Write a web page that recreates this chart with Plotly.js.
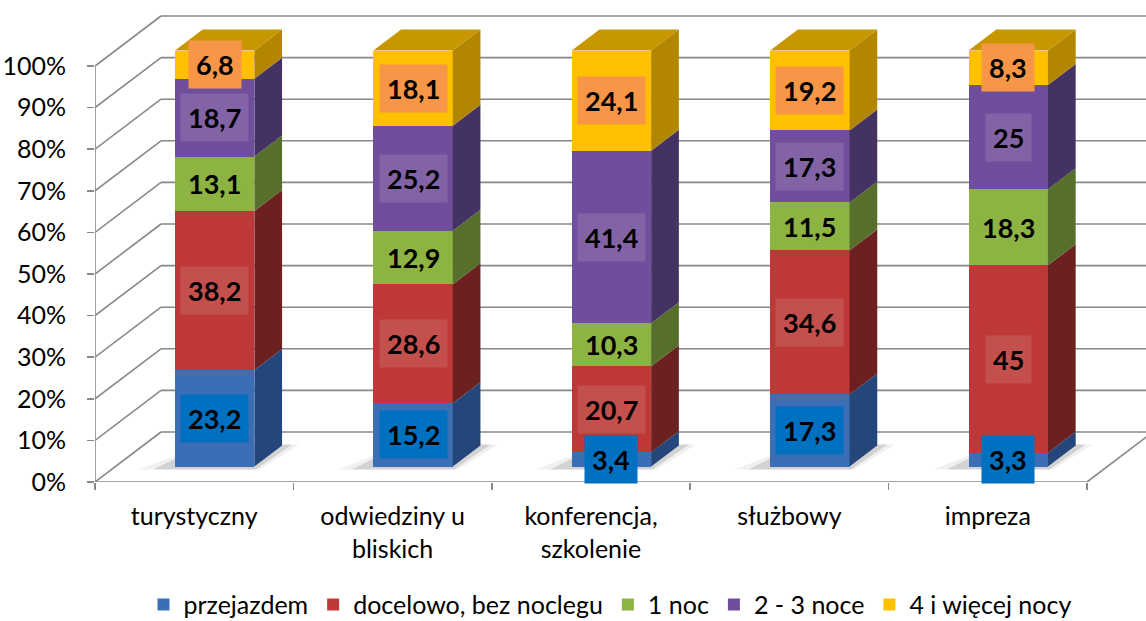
<!DOCTYPE html>
<html>
<head>
<meta charset="utf-8">
<script src="https://cdn.plot.ly/plotly-3.0.1.min.js"></script>
<style>html,body{margin:0;padding:0;background:#fff;}#chart{width:1146px;height:621px;}</style>
</head>
<body>
<div id="chart"></div>
<script>
// ---- data ----
var categories = ['turystyczny', 'odwiedziny u<br>bliskich', 'konferencja,<br>szkolenie', 'służbowy', 'impreza'];
var seriesNames = ['przejazdem', 'docelowo, bez noclegu', '1 noc', '2 - 3 noce', '4 i więcej nocy'];
var przejazdem = [23.2, 15.2, 3.4, 17.3, 3.3];
var docelowo   = [38.2, 28.6, 20.7, 34.6, 45];
var noc1       = [13.1, 12.9, 10.3, 11.5, 18.3];
var noce23     = [18.7, 25.2, 41.4, 17.3, 25];
var noce4      = [6.8, 18.1, 24.1, 19.2, 8.3];
var yTickVals  = [0, 10, 20, 30, 40, 50, 60, 70, 80, 90, 100];
var yTickText  = ['0%', '10%', '20%', '30%', '40%', '50%', '60%', '70%', '80%', '90%', '100%'];

// ---- styles ----
var frontColors = ['#3C6EB6', '#BD3836', '#8DB343', '#6F4E9C', '#FFC000'];
var sideColors  = ['#24467A', '#6C2020', '#566F2B', '#443262', '#B38600'];
var topColor    = '#C89700';
var boxColors   = ['#0070C0', '#C4504E', 'rgba(0,0,0,0)', '#8263A6', '#F79646'];
var FONT = 'Lato, "Open Sans", sans-serif';

var series = [przejazdem, docelowo, noc1, noce23, noce4];
var nCat = categories.length;
var centers = categories.map(function (_, i) { return i + 0.5; });

// pseudo-3D projection (depth offset in data units)
var DX = 66 / 198.4, DY = 50 / 4.16;
var dF = 0.31, dB = 0.73, halfW = 0.2;
function P(u, v, d) { return [u + d * DX, v + d * DY]; }

// normalise each category to 100 %
var sums = centers.map(function (_, i) {
  var s = 0; series.forEach(function (a) { s += a[i]; }); return s;
});
var pct = series.map(function (a) { return a.map(function (v, i) { return v / sums[i] * 100; }); });
var bases = series.map(function (a, k) {
  return a.map(function (v, i) { var b = 0; for (var j = 0; j < k; j++) b += pct[j][i]; return b; });
});

var traces = [];
// front faces as bars
series.forEach(function (a, k) {
  traces.push({
    type: 'bar', name: seriesNames[k],
    x: centers.map(function (c) { return c + dF * DX; }),
    y: pct[k],
    base: bases[k].map(function (b) { return b + dF * DY; }),
    width: 0.4,
    marker: { color: frontColors[k], line: { width: 0 } },
    hoverinfo: 'skip'
  });
});
// side faces
series.forEach(function (a, k) {
  centers.forEach(function (c, i) {
    var b = bases[k][i], t = b + pct[k][i];
    var pts = [P(c + halfW, b, dF), P(c + halfW, b, dB), P(c + halfW, t, dB), P(c + halfW, t, dF), P(c + halfW, b, dF)];
    traces.push({
      type: 'scatter', mode: 'lines', fill: 'toself', showlegend: false, hoverinfo: 'skip',
      x: pts.map(function (p) { return p[0]; }), y: pts.map(function (p) { return p[1]; }),
      line: { width: 0, color: sideColors[k] }, fillcolor: sideColors[k]
    });
  });
});
// top faces
centers.forEach(function (c, i) {
  var t = bases[series.length - 1][i] + pct[series.length - 1][i];
  var pts = [P(c - halfW, t, dF), P(c + halfW, t, dF), P(c + halfW, t, dB), P(c - halfW, t, dB), P(c - halfW, t, dF)];
  traces.push({
    type: 'scatter', mode: 'lines', fill: 'toself', showlegend: false, hoverinfo: 'skip',
    x: pts.map(function (p) { return p[0]; }), y: pts.map(function (p) { return p[1]; }),
    line: { width: 0, color: topColor }, fillcolor: topColor
  });
});

// wall / floor lines
var shapes = [];
var GRID = '#888888';
function seg(p, q, w) {
  shapes.push({ type: 'line', xref: 'x', yref: 'y', x0: p[0], y0: p[1], x1: q[0], y1: q[1],
    line: { color: GRID, width: w || 1.6 }, layer: 'below' });
}
yTickVals.forEach(function (v) {
  seg(P(0, v, 0), P(0, v, 1));
  seg(P(0, v, 1), P(nCat, v, 1));
});
seg(P(nCat, 0, 0), P(nCat, 0, 1));
seg(P(0, 0, 0), P(0, 100, 0));
seg(P(0, 0, 0), P(nCat, 0, 0));
// soft shadows on the floor
centers.forEach(function (c) {
  [[0.16, 0.06], [0.09, 0.12]].forEach(function (s) {
    var e = s[0];
    var pts = [P(c - halfW - e, 0, dF - 0.06), P(c + halfW + e * 0.3, 0, dF - 0.06),
               P(c + halfW + e * 0.5, 0, dB + 0.02), P(c - halfW, 0, dB + 0.02)];
    shapes.push({ type: 'path', xref: 'x', yref: 'y', layer: 'below',
      path: 'M' + pts.map(function (p) { return p[0] + ',' + p[1]; }).join('L') + 'Z',
      fillcolor: 'rgba(0,0,0,' + s[1] + ')', line: { width: 0 } });
  });
});

// value labels
var annotations = [];
series.forEach(function (a, k) {
  a.forEach(function (v, i) {
    var p = P(centers[i], bases[k][i] + pct[k][i] / 2, dF);
    annotations.push({
      x: p[0], y: p[1], xref: 'x', yref: 'y', showarrow: false,
      text: String(v).replace('.', ','),
      font: { family: FONT, size: 27, color: '#000', weight: 'bold' },
      bgcolor: boxColors[k], borderpad: 7
    });
  });
});

var layout = {
  width: 1146, height: 621,
  margin: { l: 95, r: 0, t: 0, b: 139, pad: 0, autoexpand: false },
  paper_bgcolor: '#fff', plot_bgcolor: 'rgba(0,0,0,0)',
  barmode: 'overlay', bargap: 0,
  font: { family: FONT, size: 25, color: '#000' },
  showlegend: true,
  legend: { orientation: 'h', x: 0.49, xanchor: 'center', yref: 'container', y: 0.026, yanchor: 'middle',
    font: { family: FONT, size: 25, color: '#000' }, traceorder: 'normal', itemclick: false },
  xaxis: {
    range: [0, 1051 / 198.4], showgrid: false, zeroline: false, showline: false,
    tickmode: 'array', tickvals: centers, ticktext: categories, ticks: '',
    ticklabelstandoff: 17, tickfont: { family: FONT, size: 25, color: '#000' },
    minor: { tickmode: 'array', tickvals: [0, 1, 2, 3, 4, 5], ticks: 'outside', ticklen: 7, tickwidth: 1.6, tickcolor: GRID, showgrid: false },
    fixedrange: true
  },
  yaxis: {
    range: [0, 482 / 4.16], showgrid: false, zeroline: false, showline: false,
    tickmode: 'array', tickvals: yTickVals, ticktext: yTickText,
    ticks: 'outside', ticklen: 7, tickwidth: 1.6, tickcolor: GRID,
    ticklabelstandoff: 16, tickfont: { family: FONT, size: 25, color: '#000' },
    fixedrange: true
  },
  shapes: shapes,
  annotations: annotations
};

Plotly.newPlot('chart', traces, layout, { displayModeBar: false, staticPlot: true });
</script>
</body>
</html>
